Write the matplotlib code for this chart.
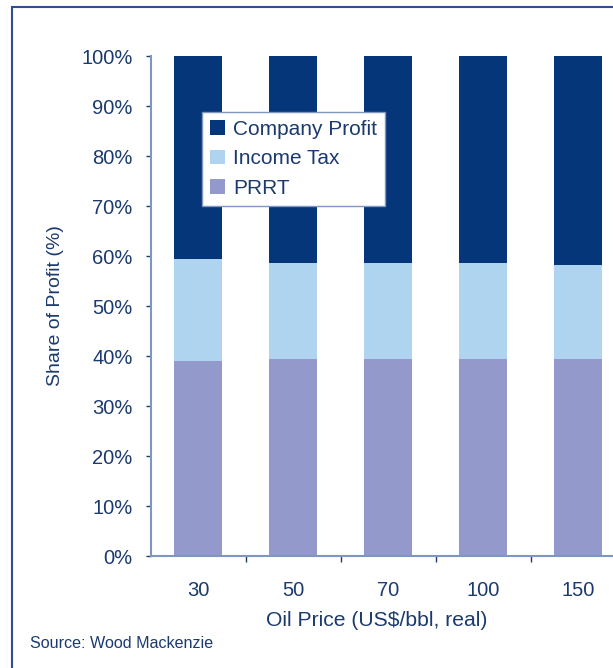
import matplotlib
matplotlib.use("Agg")
import matplotlib.pyplot as plt
from matplotlib.patches import Rectangle
import numpy as np

categories = ["30", "50", "70", "100", "150"]
prrt = [39.0, 39.4, 39.4, 39.4, 39.4]
income_tax = [20.4, 19.2, 19.2, 19.2, 18.8]
company_profit = [100 - a - b for a, b in zip(prrt, income_tax)]
y_ticks = [0, 10, 20, 30, 40, 50, 60, 70, 80, 90, 100]

plt.rcParams['font.family'] = ['Liberation Sans', 'DejaVu Sans']
txt = '#1B3A6E'
c_cp = '#06367A'
c_it = '#AED4F0'
c_pr = '#9499CB'

fig = plt.figure(figsize=(6.13, 6.68), dpi=100)
W, H = 613, 668
ax = fig.add_axes([150.5 / W, 112 / H, 475 / W, 500 / H])

x = np.arange(len(categories))
w = 0.5
ax.bar(x, prrt, w, color=c_pr, label='PRRT')
ax.bar(x, income_tax, w, bottom=prrt, color=c_it, label='Income Tax')
b2 = [a + b for a, b in zip(prrt, income_tax)]
ax.bar(x, company_profit, w, bottom=b2, color=c_cp, label='Company Profit')

ax.set_xlim(-0.5, len(categories) - 0.5)
ax.set_ylim(0, 100)
ax.set_yticks(y_ticks)
ax.set_yticklabels([f"{v}%" for v in y_ticks], fontsize=14.5, color=txt)
ax.set_xticks(x)
ax.set_xticklabels(categories, fontsize=14.5, color=txt)
ax.tick_params(axis='x', length=0, pad=18)
ax.set_xticks(np.arange(0.5, len(categories) - 0.5, 1), minor=True)
ax.tick_params(axis='x', which='minor', length=4.3, color=txt, width=1)
ax.tick_params(axis='y', length=3.6, color=txt, width=1, pad=9.4)
for s in ['top', 'right']:
    ax.spines[s].set_visible(False)
ax.spines['left'].set_color('#7F96C0')
ax.spines['left'].set_linewidth(1.5)
ax.spines['bottom'].set_color('#7F96C0')
ax.spines['bottom'].set_linewidth(1.5)

ax.set_ylabel("Share of Profit (%)", fontsize=14, color=txt, labelpad=12)
ax.set_xlabel("Oil Price (US$/bbl, real)", fontsize=15.2, color=txt)
ax.xaxis.set_label_coords((377 - 150.5) / 475, -(620.5 - 556) / 500)
ax.xaxis.label.set_va('center')

handles, labels = ax.get_legend_handles_labels()
leg = ax.legend(handles[::-1], labels[::-1], loc='upper left',
                bbox_to_anchor=((202 - 150.5) / 475, (668 - 112 - 112) / 500),
                fontsize=15, frameon=True, fancybox=False, borderaxespad=0,
                framealpha=1, handlelength=0.72, handleheight=0.7, handletextpad=0.38,
                labelspacing=0.5, borderpad=0.38)
leg.get_frame().set_edgecolor('#7F96C0')
leg.get_frame().set_linewidth(1.0)
for t in leg.get_texts():
    t.set_color(txt)

fig.text(30 / W, 1 - 643 / H, "Source: Wood Mackenzie", fontsize=11.6, color=txt, va='center')
fig.patches.append(Rectangle((12 / W, -0.1), 1.2, 1 - 7 / H + 0.1, transform=fig.transFigure,
                             fill=False, edgecolor='#2F4F8F', linewidth=1.5))

fig.savefig("out.png", dpi=100)
